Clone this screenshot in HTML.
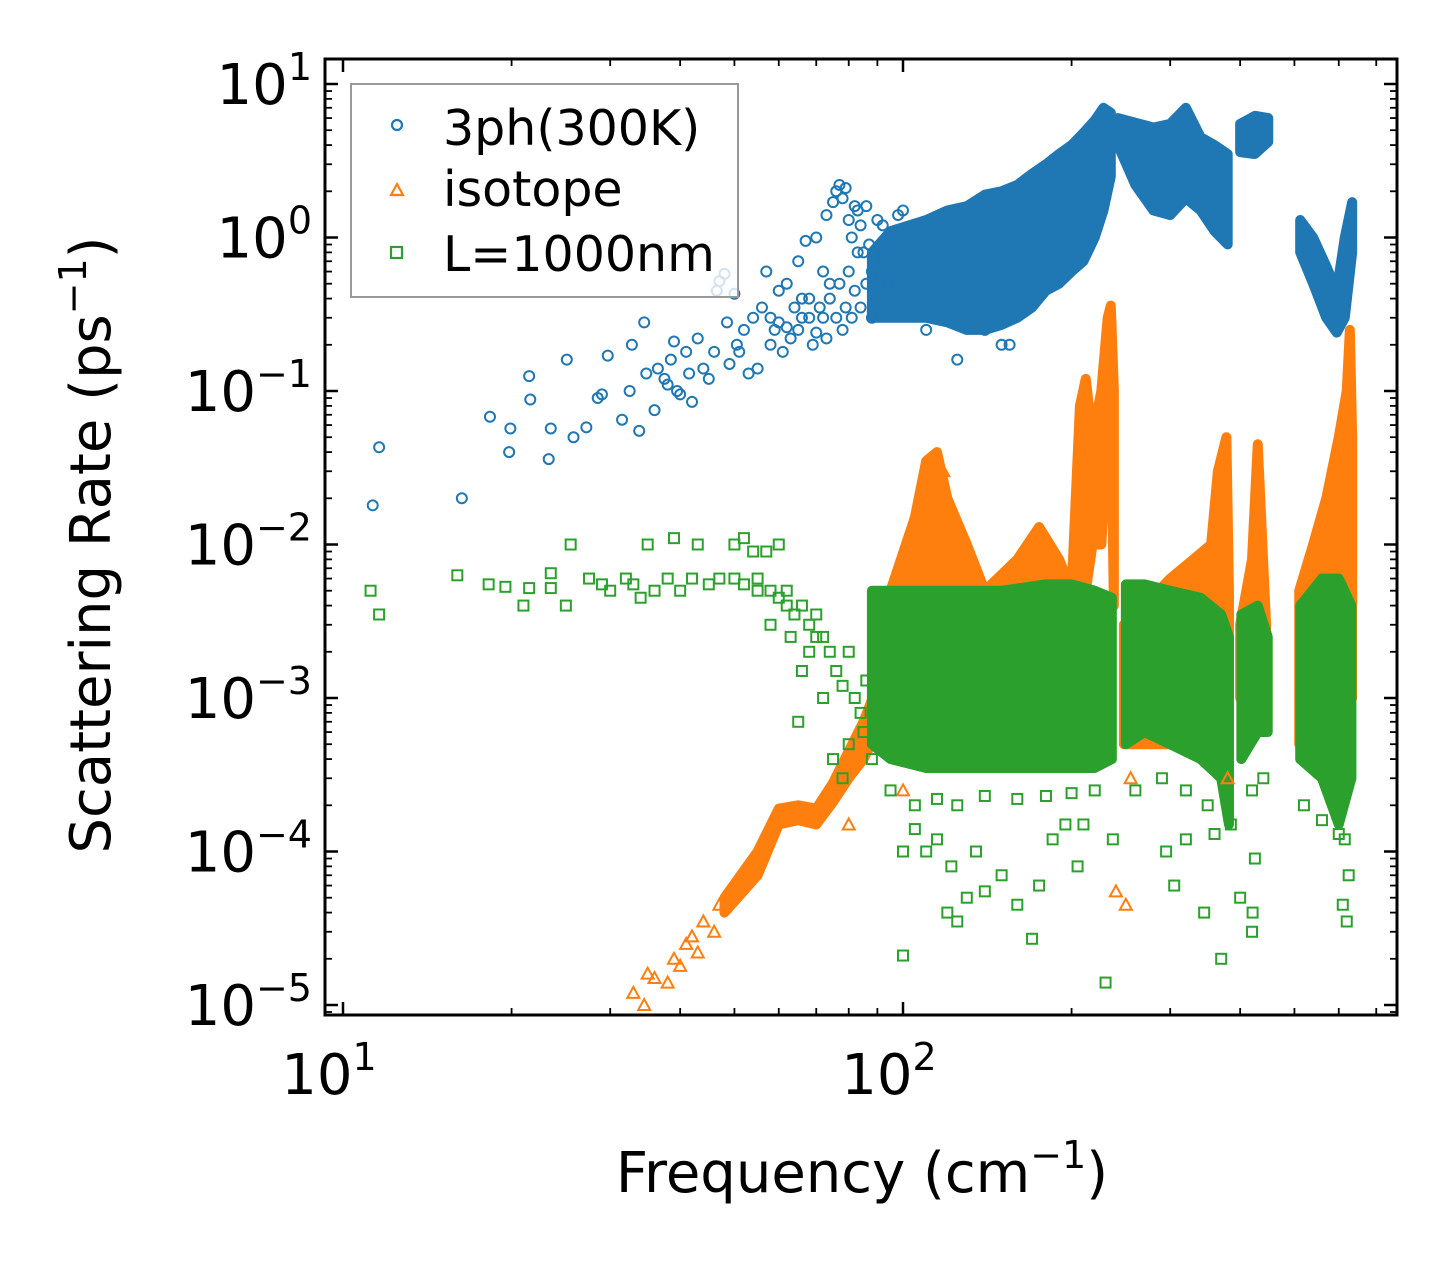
<!DOCTYPE html>
<html><head><meta charset="utf-8"><style>
html,body{margin:0;padding:0;background:#fff}
svg{display:block;font-family:"DejaVu Sans","Liberation Sans",sans-serif}
</style></head><body>
<svg id="chart" width="1455" height="1265" viewBox="0 0 1455 1265">
<g id="bands"></g>
<g id="marks"></g>
<g id="axes"></g>
<g>
<rect x="351" y="84" width="387" height="213" fill="#fff" fill-opacity="0.8" stroke="#999" stroke-width="2"/>
<circle cx="397" cy="125" r="5" fill="none" stroke="#1f77b4" stroke-width="2.2"/>
<text x="443" y="145" font-size="49">3ph(300K)</text>
<polygon points="397,184 403,195 391,195" fill="none" stroke="#ff7f0e" stroke-width="2.2"/>
<text x="443" y="206" font-size="49">isotope</text>
<rect x="391" y="247" width="11" height="11" fill="none" stroke="#2ca02c" stroke-width="2.2"/>
<text x="443" y="271" font-size="49">L=1000nm</text>
</g>
<text x="862" y="1192" font-size="56" text-anchor="middle">Frequency (cm<tspan dy="-24" font-size="38">−1</tspan><tspan dy="24">)</tspan></text>
<text transform="translate(110,545) rotate(-90)" font-size="56" text-anchor="middle">Scattering Rate (ps<tspan dy="-24" font-size="38">−1</tspan><tspan dy="24">)</tspan></text>
</svg>
<script>
const blueSparse=[[11.3,0.018],[11.6,0.043],[16.3,0.020],[18.3,0.068],[19.8,0.040],[19.9,0.057],[21.5,0.125],[21.6,0.088],[23.3,0.036],[23.5,0.057],[25.1,0.16],[25.8,0.050],[27.2,0.058],[28.5,0.090],[29.0,0.095],[29.7,0.17],[31.5,0.065],[32.5,0.10],[32.8,0.20],[33.8,0.055],[34.5,0.28],[34.8,0.13],[36,0.075],[36.5,0.14],[37.5,0.12],[38,0.11],[38.5,0.16],[39,0.21],[39.5,0.10],[40,0.095],[41,0.18],[41.5,0.13],[42,0.085],[43,0.22],[44,0.14],[45,0.12],[46,0.18],[46.5,0.45],[47,0.52],[48,0.58],[48.5,0.28],[49,0.15],[50,0.43],[50.5,0.2],[51,0.18],[52,0.25],[53,0.13],[54,0.3],[55,0.14],[56,0.35],[57,0.6],[58,0.2],[59,0.25],[60,0.45],[61,0.18],[62,0.5],[63,0.22],[65,0.7],[66,0.3],[67,0.95],[68,0.4],[69,0.2],[70,1.0],[72,0.6],[73,1.4],[74,0.5],[75,1.7],[76,2.0],[77,2.2],[78,1.8],[79,2.1],[80,1.3],[81,1.0],[82,1.6],[83,1.5],[84,1.2],[85,0.8],[86,1.6],[88,0.6],[90,1.3],[92,1.2],[95,1.0],[98,1.4],[100,1.5],[125,0.16],[110,0.25],[150,0.2],[155,0.2],[120,0.3],[140,0.25],[58,0.3],[60,0.28],[62,0.26],[64,0.35],[65,0.25],[66,0.4],[68,0.3],[70,0.24],[71,0.35],[72,0.3],[73,0.22],[74,0.4],[76,0.3],[77,0.5],[78,0.25],[79,0.35],[80,0.6],[81,0.3],[82,0.45],[83,0.8],[84,0.35],[86,0.5],[87,0.9],[88,0.3],[89,0.7],[90,0.4],[92,0.8],[94,0.5]];
const blueBandA=[[88,0.3,0.8],[95,0.3,1.1],[110,0.3,1.3],[120,0.28,1.5],[130,0.25,1.6],[140,0.25,1.9],[150,0.27,2.0],[160,0.3,2.2],[170,0.35,2.6],[180,0.45,3.0],[190,0.5,3.5],[200,0.6,4.0],[210,0.7,4.8],[220,1.0,5.8],[228,1.5,7.0],[235,2.5,6.5]];
const blueBandB=[[242,4,6],[260,2.2,5.6],[280,1.5,5.2],[300,1.4,5.5],[320,1.8,7],[340,1.5,4.5],[360,1.1,4],[380,0.9,3.5]];
const blueBandC=[[400,3.6,5.5],[425,3.5,6.2],[449,4.2,6]];
const blueBandD=[[512,0.8,1.3],[540,0.5,1.0],[570,0.3,0.65],[595,0.24,0.45],[615,0.3,1.0],[634,0.8,1.7]];
const orangeSparse=[[33,1.2e-5],[34.5,1e-5],[35,1.6e-5],[36,1.5e-5],[38,1.4e-5],[39,2e-5],[40,1.8e-5],[41,2.5e-5],[42,2.8e-5],[43,2.2e-5],[44,3.5e-5],[46,3e-5],[47,4.5e-5],[80,1.5e-4],[100,2.5e-4],[240,5.5e-5],[250,4.5e-5],[255,3e-4],[118,3e-2],[380,3e-4]];
const orangeBandA=[[48,4e-5,5e-5],[55,7e-5,1e-4],[60,1.5e-4,1.9e-4],[65,1.6e-4,2e-4],[70,1.5e-4,1.9e-4],[75,2.1e-4,2.8e-4],[80,3e-4,4.5e-4],[85,4e-4,7e-4],[90,6e-4,1.2e-3],[95,1e-3,5e-3],[105,2e-3,1.5e-2],[110,3e-3,3.5e-2],[115,3e-3,4e-2],[120,2e-3,2e-2],[130,2e-3,1e-2],[140,2e-3,5e-3],[160,2e-3,8e-3],[175,2e-3,1.3e-2],[190,2e-3,8e-3],[200,2e-3,5e-3],[207,3e-3,8e-2],[212,5e-3,1.2e-1],[218,1e-2,5e-2],[226,1e-2,1e-1],[232,5e-2,3e-1],[235,1e-1,3.6e-1],[238,4e-3,1e-1]];
const orangeBandB=[[248,5e-4,3e-3],[270,5e-4,4e-3],[300,5e-4,6e-3],[330,5e-4,8e-3],[355,5e-4,1e-2],[365,1e-3,3e-2],[378,1e-3,5e-2],[382,1e-3,5e-3]];
const orangeBandC=[[400,1e-3,3e-3],[420,1e-3,8e-3],[430,1e-3,4.5e-2],[445,1e-3,3e-3]];
const orangeBandD=[[510,5e-4,5e-3],[540,5e-4,1e-2],[570,5e-4,2e-2],[600,5e-4,5e-2],[620,5e-4,1e-1],[628,1e-3,2.5e-1],[634,1e-3,5e-2]];
const greenSparse=[[11.2,5e-3],[11.6,3.5e-3],[16,6.3e-3],[18.2,5.5e-3],[19.5,5.3e-3],[21,4e-3],[21.5,5.2e-3],[23.5,6.5e-3],[23.5,5.2e-3],[25,4e-3],[25.5,1e-2],[27.5,6e-3],[29,5.5e-3],[30,5e-3],[32,6e-3],[33,5.5e-3],[34,4.5e-3],[35,1e-2],[36,5e-3],[38,6e-3],[39,1.1e-2],[40,5e-3],[42,6e-3],[43,1e-2],[45,5.5e-3],[47,6e-3],[50,1e-2],[52,1.1e-2],[54,9e-3],[55,5e-3],[57,9e-3],[58,3e-3],[60,1e-2],[62,5e-3],[63,2.5e-3],[65,7e-4],[66,1.5e-3],[68,2e-3],[70,2.5e-3],[72,1e-3],[75,4e-4],[78,3e-4],[80,5e-4],[85,6e-4],[88,4e-4],[100,1e-4],[100,2.1e-5],[105,1.4e-4],[110,1e-4],[115,1.2e-4],[120,4e-5],[122,8e-5],[125,3.5e-5],[130,5e-5],[135,1e-4],[140,5.5e-5],[150,7e-5],[160,4.5e-5],[170,2.7e-5],[175,6e-5],[185,1.2e-4],[195,1.5e-4],[205,8e-5],[210,1.5e-4],[230,1.4e-5],[237,1.2e-4],[295,1e-4],[305,6e-5],[320,1.2e-4],[345,4e-5],[360,1.3e-4],[370,2e-5],[385,1.5e-4],[400,5e-5],[420,3e-5],[421,4e-5],[425,9e-5],[610,4.5e-5],[620,3.5e-5],[615,1.2e-4],[625,7e-5],[50,6e-3],[52,5.5e-3],[55,6e-3],[58,5e-3],[60,4.5e-3],[62,4e-3],[64,3.5e-3],[66,4e-3],[68,3e-3],[70,3.5e-3],[72,2.5e-3],[74,2e-3],[76,1.5e-3],[78,1.2e-3],[80,2e-3],[82,1e-3],[84,8e-4],[86,1.3e-3],[95,2.5e-4],[105,2e-4],[115,2.2e-4],[125,2e-4],[140,2.3e-4],[160,2.2e-4],[180,2.3e-4],[200,2.4e-4],[220,2.5e-4],[260,2.5e-4],[290,3e-4],[320,2.5e-4],[350,2e-4],[420,2.5e-4],[440,3e-4],[520,2e-4],[560,1.6e-4],[600,1.3e-4]];
const greenBandA=[[88,5e-4,5e-3],[95,4e-4,5e-3],[110,3.5e-4,5e-3],[130,3.5e-4,5e-3],[150,3.5e-4,5e-3],[180,3.5e-4,5.5e-3],[200,3.5e-4,5.5e-3],[220,3.5e-4,5e-3],[236,4e-4,4.5e-3]];
const greenBandB=[[250,5e-4,5.5e-3],[270,6e-4,5.5e-3],[300,5e-4,5e-3],[340,4e-4,4.5e-3],[370,3e-4,3.5e-3],[382,1.5e-4,2.5e-3]];
const greenBandC=[[402,4e-4,3.5e-3],[430,6e-4,4e-3],[448,6e-4,2.5e-3]];
const greenBandD=[[512,4e-4,4e-3],[560,3e-4,6e-3],[600,1.5e-4,6e-3],[632,3e-4,4e-3]];
const xTickVals=[10,100];
const yTickExps=[1,0,-1,-2,-3,-4,-5];

const NS='http://www.w3.org/2000/svg';
const X0=343,XD=560,Y0=84,YD=153.5,L=325,R=1397,T=59,B=1015;
function xs(f){return X0+XD*(Math.log10(f)-1);}
function ys(v){return Y0+YD*(1-Math.log10(v));}
function mk(tag,attrs,parent){const e=document.createElementNS(NS,tag);for(const k in attrs)e.setAttribute(k,attrs[k]);parent.appendChild(e);return e;}
const bands=document.getElementById('bands'),marks=document.getElementById('marks'),axes=document.getElementById('axes');
const colors={blue:'#1f77b4',orange:'#ff7f0e',green:'#2ca02c'};
function band(arr,col,name){
  const up=arr.map(d=>xs(d[0])+','+ys(d[2]));
  const lo=arr.slice().reverse().map(d=>xs(d[0])+','+ys(d[1]));
  const p=mk('polygon',{points:up.concat(lo).join(' '),fill:col,stroke:col,'stroke-width':10,'stroke-linejoin':'round'},bands);
  
  
}
function pts(arr,col,shape,name){
  arr.forEach(d=>{
    const x=xs(d[0]),y=ys(d[1]);let e;
    if(shape==='c')e=mk('circle',{cx:x,cy:y,r:5,fill:'none',stroke:col,'stroke-width':2},marks);
    else if(shape==='t')e=mk('polygon',{points:`${x},${y-6} ${x+6},${y+5} ${x-6},${y+5}`,fill:'none',stroke:col,'stroke-width':2},marks);
    else e=mk('rect',{x:x-5,y:y-5,width:10,height:10,fill:'none',stroke:col,'stroke-width':2},marks);
    
    
  });
}
const blueG=[blueBandA,blueBandB,blueBandC,blueBandD];
blueG.forEach(b=>band(b,colors.blue,'3ph-dense-region'));
pts(blueSparse,colors.blue,'c','3ph-point');
[orangeBandA,orangeBandB,orangeBandC,orangeBandD].forEach(b=>band(b,colors.orange,'isotope-dense-region'));
pts(orangeSparse,colors.orange,'t','isotope-point');
[greenBandA,greenBandB,greenBandC,greenBandD].forEach(b=>band(b,colors.green,'boundary-dense-region'));
pts(greenSparse,colors.green,'s','boundary-point');

const cp=mk('clipPath',{id:'clip'},document.getElementById('chart'));
mk('rect',{x:L,y:T,width:R-L,height:B-T},cp);
bands.setAttribute('clip-path','url(#clip)');marks.setAttribute('clip-path','url(#clip)');

function line(x1,y1,x2,y2,w,name){const e=mk('line',{x1,y1,x2,y2,stroke:'#000','stroke-width':w},axes);}
for(let dec=1;dec<=100;dec*=10){for(let m=1;m<10;m++){const f=dec*m;const x=xs(f);if(x<L||x>R)continue;const len=m===1?13:7,w=m===1?2.5:1.8;line(x,B,x,B-len,w,'x-tick');line(x,T,x,T+len,w,'x-tick-top');}}
for(let e=-6;e<=1;e++){for(let m=1;m<10;m++){const v=m*Math.pow(10,e);const y=ys(v);if(y<T||y>B)continue;const len=m===1?13:7,w=m===1?2.5:1.8;line(L,y,L+len,y,w,'y-tick');line(R,y,R-len,y,w,'y-tick-right');}}
const fr=mk('rect',{x:L,y:T,width:R-L,height:B-T,fill:'none',stroke:'#000','stroke-width':3},axes);


xTickVals.forEach(v=>{const t=mk('text',{x:xs(v)-14,y:1094,'font-size':56,'text-anchor':'middle'},axes);t.innerHTML='10<tspan dy="-24" font-size="38">'+Math.round(Math.log10(v))+'</tspan>';

});
yTickExps.forEach(ex=>{const t=mk('text',{x:312,y:ys(Math.pow(10,ex))+20,'font-size':56,'text-anchor':'end'},axes);t.innerHTML='10<tspan dy="-24" font-size="38">'+(ex<0?'−'+(-ex):ex)+'</tspan>';

});
</script>
</body></html>
